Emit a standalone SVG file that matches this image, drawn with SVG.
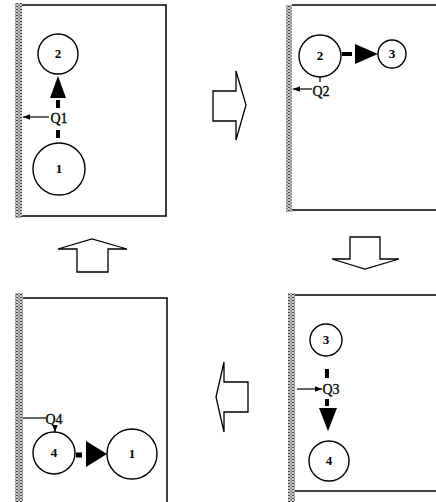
<svg xmlns="http://www.w3.org/2000/svg" width="436" height="502" viewBox="0 0 436 502">
<defs>
<pattern id="hatch" width="4" height="3" patternUnits="userSpaceOnUse">
<rect width="4" height="3" fill="#c8c8c8"/>
<rect x="0" y="0" width="2" height="1" fill="#444"/>
<rect x="2" y="1.5" width="2" height="1" fill="#666"/>
</pattern>
<marker id="sa" viewBox="0 0 10 10" refX="10" refY="5" markerWidth="6" markerHeight="6" orient="auto"><path d="M0,1 L10,5 L0,9 z" fill="#000"/></marker>
</defs>
<style>
.wall{fill:url(#hatch)}
.frame{fill:none;stroke:#000;stroke-width:1.5}
.node circle{fill:#fff;stroke:#000;stroke-width:1.4}
.num{font-family:"Liberation Serif",serif;font-weight:bold;font-size:13px;text-anchor:middle}
.q{font-family:"Liberation Serif",serif;font-size:14px;text-anchor:middle;stroke:#000;stroke-width:0.3}
.bar{stroke:#000;stroke-width:4}
.thin{stroke:#000;stroke-width:1.2;fill:none}
.big{fill:#fff;stroke:#000;stroke-width:1.3;stroke-linejoin:miter}
.head{fill:#000}
</style>
<g id="panel-tl"><rect class="wall" x="15" y="3" width="7" height="215"/><path class="frame" d="M22,5 H166 V216 H22"/></g>
<g id="panel-tr"><rect class="wall" x="286" y="5" width="6" height="207"/><path class="frame" d="M292,5 H436 M292,210 H436"/></g>
<g id="panel-bl"><rect class="wall" x="15" y="293" width="8" height="209"/><path class="frame" d="M23,298 H167 V502"/></g>
<g id="panel-br"><rect class="wall" x="288" y="293" width="7" height="209"/><path class="frame" d="M295,295 H436 M295,491 H436"/></g>

<g id="tl-n2" class="node"><circle cx="58" cy="54" r="20"/><text class="num" x="58" y="58">2</text></g>
<g id="tl-n1" class="node"><circle cx="59" cy="169" r="26"/><text class="num" x="59" y="173">1</text></g>
<g id="tl-q1"><text class="q" x="59" y="123">Q1</text></g>

<g id="tr-n2" class="node"><circle cx="320" cy="56" r="21"/><text class="num" x="320" y="60">2</text></g>
<g id="tr-n3" class="node"><circle cx="392" cy="54" r="14"/><text class="num" x="392" y="58">3</text></g>
<g id="tr-q2"><text class="q" x="321" y="96">Q2</text></g>

<g id="br-n3" class="node"><circle cx="326" cy="340" r="16"/><text class="num" x="326" y="344">3</text></g>
<g id="br-n4" class="node"><circle cx="329" cy="461" r="20"/><text class="num" x="329" y="465">4</text></g>
<g id="br-q3"><text class="q" x="331" y="394">Q3</text></g>

<g id="bl-n4" class="node"><circle cx="54" cy="453" r="21"/><text class="num" x="54" y="457">4</text></g>
<g id="bl-n1" class="node"><circle cx="132" cy="454" r="25"/><text class="num" x="132" y="458">1</text></g>
<g id="bl-q4"><text class="q" x="54" y="424">Q4</text></g>

<g id="arrow-right"><path class="big" d="M213,91 H236 V71 L246,105 L236,140 V121 H213 Z"/></g>
<g id="arrow-down"><path class="big" d="M350,237 H380 V259 H399 L365,269 L332,259 H350 Z"/></g>
<g id="arrow-left"><path class="big" d="M248,382 H224 V362 L216,397 L224,432 V412 H248 Z"/></g>
<g id="arrow-up"><path class="big" d="M77,272 V249 H58 L92,239 L127,249 H108 V272 Z"/></g>

<g id="connectors">
<line class="bar" x1="58" y1="100" x2="58" y2="108"/>
<line class="bar" x1="58" y1="130" x2="58" y2="138"/>
<path class="head" d="M58,76 L50,98 L66,98 Z"/>
<line class="thin" x1="49" y1="117" x2="23" y2="117" marker-end="url(#sa)"/>

<line class="bar" x1="342" y1="54" x2="352" y2="54"/>
<path class="head" d="M378,54 L355,44 L355,64 Z"/>
<line class="thin" x1="320" y1="77" x2="320" y2="82"/>
<line class="thin" x1="312" y1="89" x2="293" y2="89" marker-end="url(#sa)"/>

<line class="bar" x1="327" y1="369" x2="327" y2="378"/>
<line class="bar" x1="327" y1="399" x2="327" y2="406"/>
<path class="head" d="M328,431 L319,408 L337,408 Z"/>
<line class="thin" x1="297" y1="389" x2="322" y2="389" marker-end="url(#sa)"/>

<line class="thin" x1="23" y1="418" x2="46" y2="418"/>
<line class="thin" x1="55" y1="426" x2="55" y2="432" marker-end="url(#sa)"/>
<line class="bar" x1="76" y1="455" x2="82" y2="455" style="stroke-width:5"/>
<path class="head" d="M107,454 L86,441 L86,467 Z"/>
</g>
</svg>
